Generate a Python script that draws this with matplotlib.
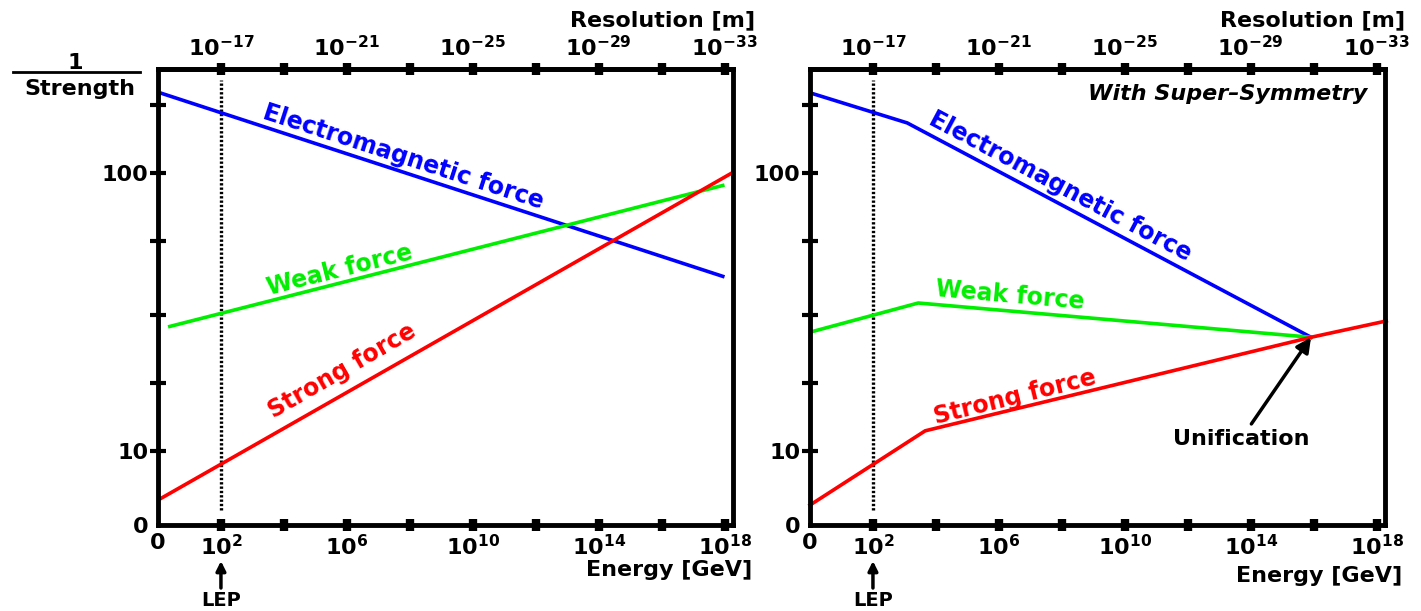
import numpy as np
import matplotlib
matplotlib.use("Agg")
import matplotlib.pyplot as plt
from matplotlib.lines import Line2D
from matplotlib.ticker import NullLocator

plt.rcParams['font.family'] = ['DejaVu Sans']
plt.rcParams['font.weight'] = 'bold'
plt.rcParams['axes.labelweight'] = 'bold'
plt.rcParams['mathtext.fontset'] = 'dejavusans'
plt.rcParams['mathtext.default'] = 'bf'

# ---------------- data (log10 of energy in GeV, 1/strength) ----------------
left_em_logE = [0.06, 18.0]
left_em_inv = [193.8, 42.2]
left_weak_logE = [0.32, 18.0]
left_weak_inv = [27.9, 90.3]
left_strong_logE = [0.0, 18.25]
left_strong_inv = [6.65, 100.0]

right_em_logE = [0.0, 3.09, 15.92]
right_em_inv = [193.8, 151.0, 25.6]
right_weak_logE = [0.0, 3.44, 15.92]
right_weak_inv = [26.7, 34.0, 25.6]
right_strong_logE = [0.0, 3.66, 15.92, 18.31]
right_strong_inv = [6.38, 11.8, 25.6, 29.3]

unification_logE = 15.92
unification_inv = 25.6
lep_logE = 2.0

energy_ticks_logE = [2, 4, 6, 8, 10, 12, 14, 16, 18]
energy_tick_labels = ['10$^{2}$', '', '10$^{6}$', '', '10$^{10}$', '', '10$^{14}$', '', '10$^{18}$']
res_ticks_logR = [-17, -19, -21, -23, -25, -27, -29, -31, -33]
res_tick_labels = ['10$^{-17}$', '', '10$^{-21}$', '', '10$^{-25}$', '', '10$^{-29}$', '', '10$^{-33}$']
y_ticks = [10, 17.6, 30.9, 56.9, 100, 175.8]
y_tick_labels = ['10', '', '', '', '100', '']
Y_BOTTOM, Y_TOP = 5.41, 236.0
X_MAX_LOG = 18.27

BLUE, GREEN, RED = '#0000ff', '#00ee00', '#ff0000'
FS = 16
FS_LAB = 17

fig = plt.figure(figsize=(14.21, 6.11), dpi=100)
W, H = 1421.0, 611.0


def fx(px):
    return px / W


def fy(py):
    return 1 - py / H


axL = fig.add_axes([fx(158), fy(525), 575 / W, 456 / H])
axR = fig.add_axes([fx(810), fy(525), 575 / W, 456 / H])


def E(v):
    return 10.0 ** np.asarray(v, dtype=float)


def setup(ax, x0, energy_label_px, res_label_px):
    ax.set_xscale('log')
    ax.set_yscale('log')
    ax.set_xlim(1, 10 ** X_MAX_LOG)
    ax.set_ylim(Y_BOTTOM, Y_TOP)
    for s in ax.spines.values():
        s.set_linewidth(3.5)
    ax.set_xticks(E(energy_ticks_logE), energy_tick_labels)
    ax.set_xticks([1.0], ['0'], minor=True)
    ax.set_yticks(y_ticks, y_tick_labels)
    ax.set_yticks([Y_BOTTOM], ['0'], minor=True)
    ax.tick_params(axis='x', which='major', direction='inout', length=8.5, width=6,
                   labelsize=FS, pad=2)
    ax.tick_params(axis='x', which='minor', length=0, labelsize=FS, pad=6)
    ax.tick_params(axis='y', which='major', direction='inout', length=12, width=3,
                   labelsize=FS, pad=1)
    ax.tick_params(axis='y', which='minor', length=0, labelsize=FS, pad=7)
    ax.set_xlabel('Energy [GeV]', fontsize=FS, fontweight='bold')
    ax.xaxis.set_label_coords((energy_label_px[0] - x0) / 575, (525 - energy_label_px[1]) / 456)
    ax.xaxis.label.set_ha('right')
    ax.xaxis.label.set_va('center')

    sec = ax.secondary_xaxis('top', functions=(lambda e: 1e-15 / e, lambda r: 1e-15 / r))
    sec.set_xticks(E(res_ticks_logR), res_tick_labels)
    sec.xaxis.set_minor_locator(NullLocator())
    sec.tick_params(axis='x', which='major', direction='inout', length=8.5, width=6,
                    labelsize=FS, pad=2)
    sec.spines['top'].set_linewidth(3.5)
    ax.text((res_label_px[0] - x0) / 575, (525 - res_label_px[1]) / 456, 'Resolution [m]',
            transform=ax.transAxes, ha='right', va='center', fontsize=FS, fontweight='bold',
            clip_on=False)

    # LEP marker
    ax.axvline(E(lep_logE), ymin=(525 - 510) / 456, ymax=(525 - 80) / 456, color='black',
               lw=2.4, linestyle=(0, (0.7, 0.6)))
    ax.annotate('', xy=(E(lep_logE), (525 - 561) / 456), xytext=(E(lep_logE), (525 - 588) / 456),
                xycoords=('data', 'axes fraction'), textcoords=('data', 'axes fraction'),
                arrowprops=dict(arrowstyle='-|>', lw=2.5, color='black', mutation_scale=14,
                                shrinkA=0, shrinkB=0), annotation_clip=False)
    ax.text(E(lep_logE), (525 - 600) / 456, 'LEP', transform=ax.get_xaxis_transform(),
            ha='center', va='center', fontsize=14, clip_on=False)


setup(axL, 158, (752, 570), (755, 20))
setup(axR, 810, (1402, 576), (1405, 20))

LW = 2.6
# left panel
axL.plot(E(left_em_logE), left_em_inv, color=BLUE, lw=LW, solid_capstyle='butt')
axL.plot(E(left_weak_logE), left_weak_inv, color=GREEN, lw=LW, solid_capstyle='butt')
axL.plot(E(left_strong_logE), left_strong_inv, color=RED, lw=LW, solid_capstyle='butt', clip_on=False)


def lab(ax, x0, px, py, s, rot, color, **kw):
    ax.text((px - x0) / 575, (525 - py) / 456, s, transform=ax.transAxes, rotation=rot,
            rotation_mode='anchor', ha='center', va='center', color=color, fontsize=FS_LAB, **kw)


lab(axL, 158, 403, 157, 'Electromagnetic force', -18, BLUE)
lab(axL, 158, 340, 270, 'Weak force', 14, GREEN)
lab(axL, 158, 342, 371, 'Strong force', 30, RED)

# right panel
axR.plot(E(right_em_logE), right_em_inv, color=BLUE, lw=LW, solid_joinstyle='miter')
axR.plot(E(right_weak_logE), right_weak_inv, color=GREEN, lw=LW, solid_joinstyle='miter')
axR.plot(E(right_strong_logE), right_strong_inv, color=RED, lw=LW, solid_joinstyle='miter',
         clip_on=False)

lab(axR, 810, 1060, 186, 'Electromagnetic force', -28, BLUE)
lab(axR, 810, 1010, 296, 'Weak force', -5, GREEN)
lab(axR, 810, 1015, 397, 'Strong force', 14, RED)

axR.text((1367 - 810) / 575, (525 - 94) / 456, 'With Super\u2013Symmetry', transform=axR.transAxes,
         ha='right', va='center', fontsize=FS, style='italic', fontweight='bold')

axR.annotate('Unification', xy=(E(unification_logE), unification_inv),
             xytext=((1241 - 810) / 575, (525 - 439) / 456), textcoords='axes fraction',
             ha='center', va='center', fontsize=FS,
             arrowprops=dict(arrowstyle='-|>', lw=2.5, color='black', mutation_scale=22,
                             shrinkA=2, shrinkB=0))

# 1 / Strength label
fig.text(fx(75), fy(63), '1', ha='center', va='center', fontsize=FS)
fig.add_artist(Line2D([fx(13), fx(140)], [fy(72), fy(72)], color='black', lw=2))
fig.text(fx(80), fy(89), 'Strength', ha='center', va='center', fontsize=FS)

fig.savefig('out.png', dpi=100)
